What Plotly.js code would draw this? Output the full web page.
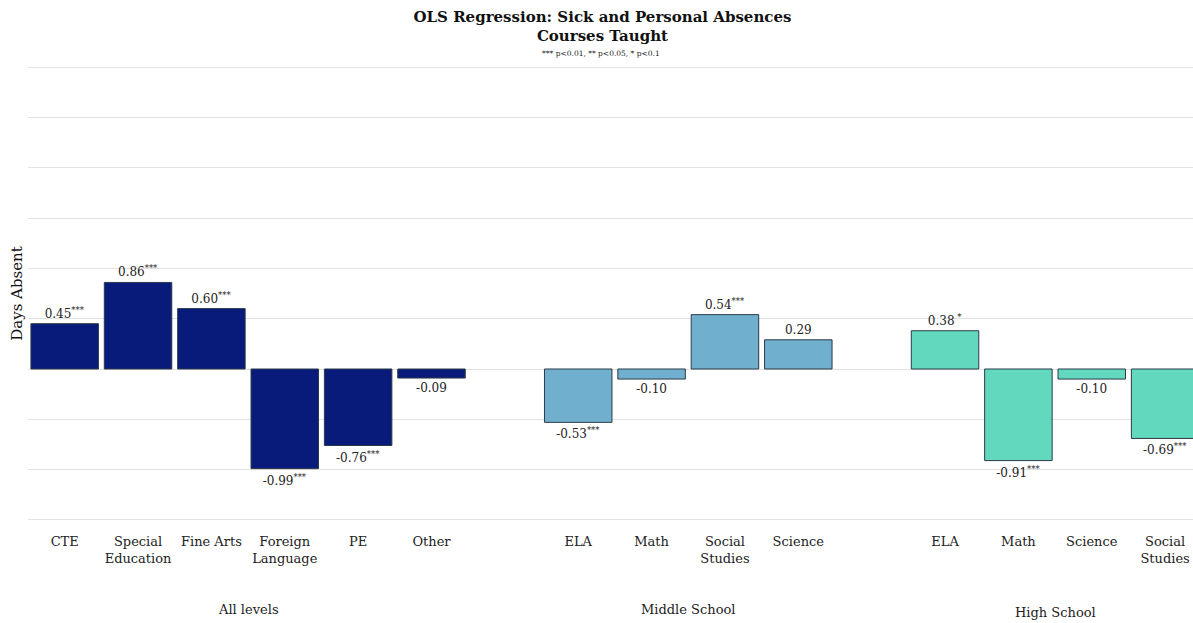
<!DOCTYPE html>
<html>
<head>
<meta charset="utf-8">
<script src="https://cdn.plot.ly/plotly-3.0.1.min.js"></script>
<style>html,body{margin:0;padding:0;background:#fff;}#chart{width:1193px;height:623px;}</style>
</head>
<body>
<div id="chart"></div>
<script>
// ---- data ----
const groupNames = ["All levels", "Middle School", "High School"];
const allLevelsCourses = ["CTE", "Special<br>Education", "Fine Arts", "Foreign<br>Language", "PE", "Other"];
const allLevelsValues = [0.45, 0.86, 0.60, -0.99, -0.76, -0.09];
const allLevelsStars = ["***", "***", "***", "***", "***", ""];
const middleCourses = ["ELA", "Math", "Social<br>Studies", "Science"];
const middleValues = [-0.53, -0.10, 0.54, 0.29];
const middleStars = ["***", "", "***", ""];
const highCourses = ["ELA", "Math", "Science", "Social<br>Studies"];
const highValues = [0.38, -0.91, -0.10, -0.69];
const highStars = [" *", "***", "", "***"];

const groups = [
  {name: groupNames[0], courses: allLevelsCourses, values: allLevelsValues, stars: allLevelsStars, color: "#081b7a", labelY: -0.192},
  {name: groupNames[1], courses: middleCourses, values: middleValues, stars: middleStars, color: "#70b0ce", labelY: -0.192},
  {name: groupNames[2], courses: highCourses, values: highValues, stars: highStars, color: "#62d9be", labelY: -0.199}
];

const FONT = "DejaVu Serif, Liberation Serif, serif";
const traces = [];
const annotations = [];
let tickvals = [], ticktext = [];
let pos = 0;
groups.forEach(g => {
  const xs = g.courses.map((_, i) => pos + i);
  traces.push({
    type: "bar",
    x: xs,
    y: g.values,
    width: 0.92,
    marker: {color: g.color, line: {color: "#2b3a48", width: 1}},
    text: g.values.map((v, i) => v.toFixed(2) + (g.stars[i] ? "<sup>" + g.stars[i] + "</sup>" : "")),
    textposition: "outside",
    constraintext: "none",
    cliponaxis: true,
    textfont: {family: FONT, size: 12, color: "#222"},
    hoverinfo: "skip",
    showlegend: false
  });
  tickvals = tickvals.concat(xs);
  ticktext = ticktext.concat(g.courses);
  annotations.push({
    x: (xs[0] + xs[xs.length - 1]) / 2, xref: "x",
    y: g.labelY, yref: "paper", yanchor: "middle",
    text: g.name, showarrow: false,
    font: {family: FONT, size: 13, color: "#222"}
  });
  pos += g.courses.length + 1;
});

annotations.push({
  x: 0.492, xref: "paper", y: 1.025, yref: "paper", yanchor: "middle",
  text: "*** p<0.01, ** p<0.05, * p<0.1", showarrow: false,
  font: {family: FONT, size: 7.5, color: "#222"}
});

const layout = {
  width: 1193, height: 623,
  margin: {l: 28, r: 0, t: 65, b: 101},
  paper_bgcolor: "#fff", plot_bgcolor: "#fff",
  title: {
    text: "<b>OLS Regression: Sick and Personal Absences<br>Courses Taught</b>",
    x: 0.505, xanchor: "center", y: 0.965, yanchor: "top",
    font: {family: FONT, size: 15, color: "#111"}
  },
  xaxis: {
    range: [-0.5, 15.38],
    tickvals: tickvals, ticktext: ticktext,
    showgrid: false, zeroline: false, showline: false, ticks: "",
    ticklabelstandoff: 10,
    tickfont: {family: FONT, size: 13, color: "#222"}
  },
  yaxis: {
    range: [-1.52, 3.02], dtick: 0.5, tick0: 0,
    showticklabels: false, ticks: "",
    gridcolor: "#e2e2e2", gridwidth: 1,
    zeroline: false, showline: false,
    title: {text: "Days Absent", standoff: 0, font: {family: FONT, size: 15, color: "#111"}}
  },
  annotations: annotations,
  bargap: 0.08
};

Plotly.newPlot("chart", traces, layout, {displayModeBar: false, staticPlot: true});
</script>
</body>
</html>
